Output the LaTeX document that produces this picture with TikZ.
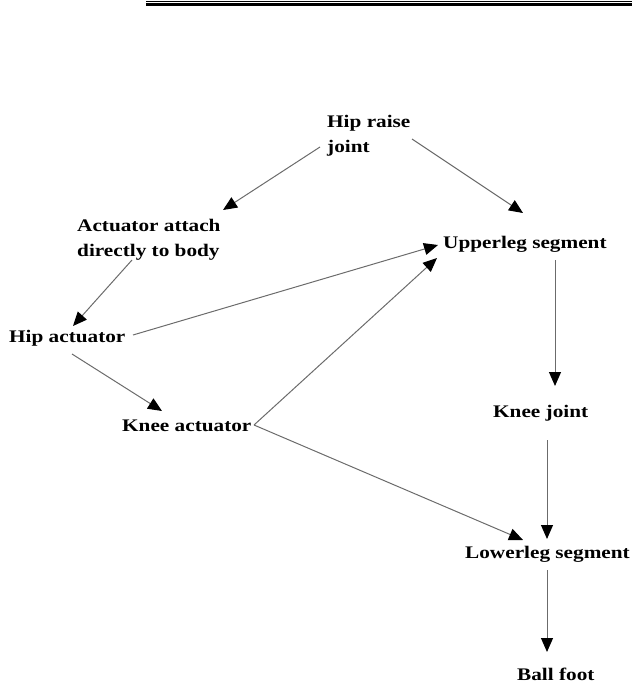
\documentclass[tikz,border=0pt]{standalone}
\usepackage{fontspec}
\newfontfamily\labelfont{Liberation Serif}[FakeStretch=1.2]
\usetikzlibrary{arrows.meta}
\definecolor{linkgray}{gray}{0.42}
\begin{document}
\begin{tikzpicture}[x=1pt,y=-1pt,
  lbl/.style={inner sep=0pt, anchor=base west, align=left,
    font=\labelfont\bfseries\fontsize{17.7}{25.5}\selectfont},
  link/.style={draw=linkgray, line width=1pt,
    -{Triangle[length=14pt,width=12pt,black]}}]
\useasboundingbox (0,0) rectangle (632,684);

% double rule along the top edge
\draw[line width=1.3pt] (146,1.5) -- (632,1.5);
\draw[line width=2.3pt] (146,4.4) -- (632,4.4);

% parts of the leg (two-line labels are placed by the baseline of their last line)
\node[lbl] (hr) at (327,153) {Hip raise\\joint};
\node[lbl] (aa) at (77,257) {Actuator attach\\directly to body};
\node[lbl] (ha) at (9,342) {Hip actuator};
\node[lbl] (ka) at (122,431) {Knee actuator};
\node[lbl] (ul) at (443,248) {Upperleg segment};
\node[lbl] (kj) at (493,417) {Knee joint};
\node[lbl] (ll) at (465,558) {Lowerleg segment};
\node[lbl] (bf) at (517,680) {Ball foot};

% connections
\draw[link] ([shift={(-7,-6)}]hr.base west) -- ([shift={(146,-47)}]aa.base west);
\draw[link] ([shift={(85,-14)}]hr.base west) -- ([shift={(80,-35)}]ul.base west);
\draw[link] ([shift={(55,3)}]aa.base west) -- ([shift={(64,-16)}]ha.base west);
\draw[link] ([shift={(124,-7)}]ha.base west) -- ([shift={(-5,-3)}]ul.base west);
\draw[link] ([shift={(63,12)}]ha.base west) -- ([shift={(40,-20)}]ka.base west);
\draw[link] ([shift={(132,-6)}]ka.base west) -- ([shift={(-6,10)}]ul.base west);
\draw[link] ([shift={(132,-6)}]ka.base west) -- ([shift={(58,-18)}]ll.base west);
\draw[link] ([shift={(112,12)}]ul.base west) -- ([shift={(62,-31)}]kj.base west);
\draw[link] ([shift={(54,23)}]kj.base west) -- ([shift={(82,-19)}]ll.base west);
\draw[link] ([shift={(82,12)}]ll.base west) -- ([shift={(30,-28)}]bf.base west);
\end{tikzpicture}
\end{document}
